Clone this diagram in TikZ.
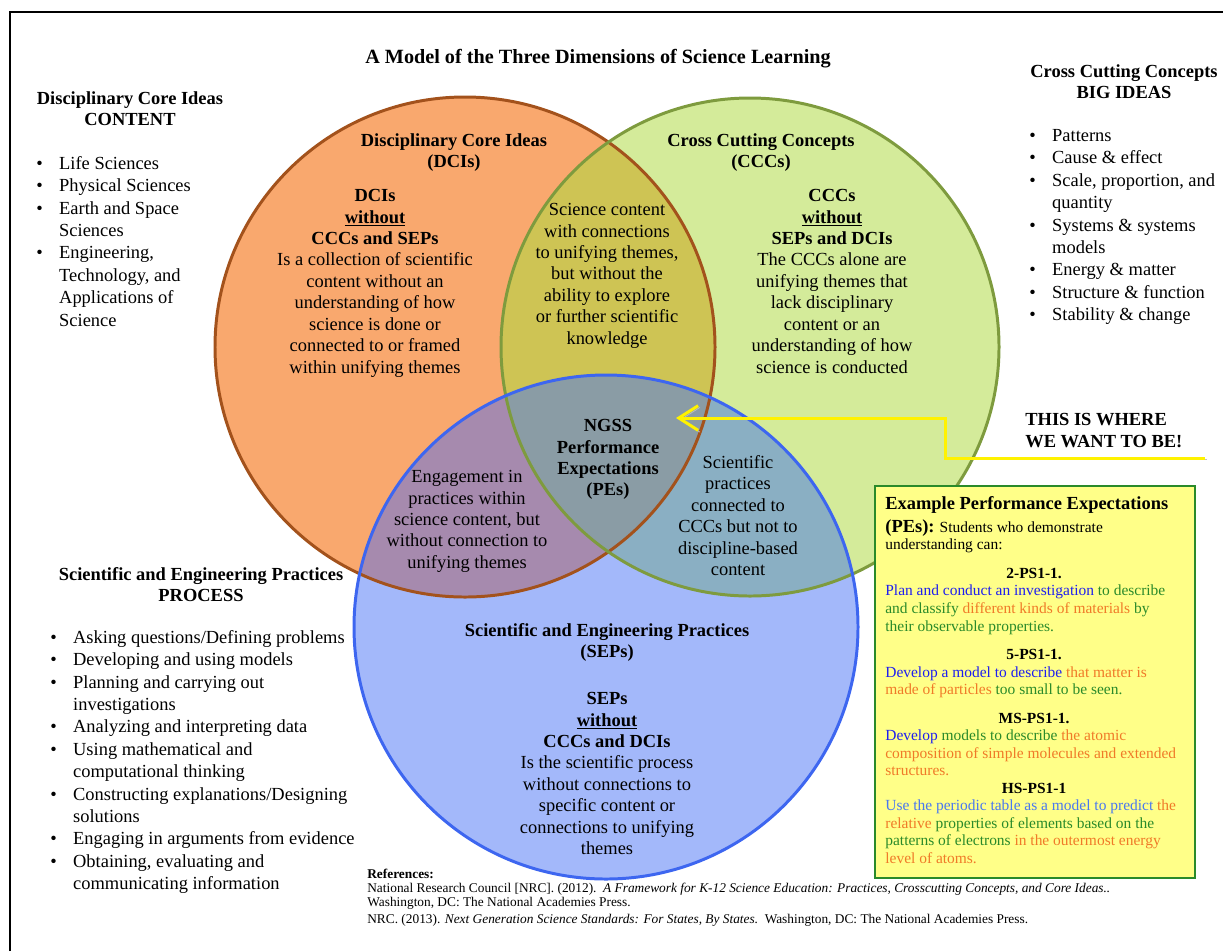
\documentclass[tikz,border=0pt]{standalone}
\usepackage{fontspec}
\setmainfont{Liberation Serif}
\usetikzlibrary{arrows.meta}

\definecolor{dcifill}{HTML}{F9A86E}
\definecolor{dciline}{HTML}{A3521C}
\definecolor{cccfill}{HTML}{D4EB9A}
\definecolor{cccline}{HTML}{7E9B3E}
\definecolor{sepfill}{HTML}{A3B8FA}
\definecolor{sepline}{HTML}{3D66F0}
\definecolor{dcicccfill}{HTML}{CEC454}
\definecolor{dcisepfill}{HTML}{A68AAE}
\definecolor{cccsepfill}{HTML}{8AAFC3}
\definecolor{allfill}{HTML}{8A9CA5}
\definecolor{boxfill}{HTML}{FFFF88}
\definecolor{boxline}{HTML}{2A8A2A}
\definecolor{pblue}{HTML}{1E1EF0}
\definecolor{pgreen}{HTML}{2A8A2A}
\definecolor{porange}{HTML}{F07A28}
\definecolor{plblue}{HTML}{4A78F0}

\newcommand{\bul}{\makebox[13pt][l]{\textbullet}}
\newcommand{\ind}{\hspace*{13pt}}

\begin{document}
\begin{tikzpicture}[x=0.02cm,y=-0.02cm,
  every node/.style={inner sep=0pt},
  plain/.style={font=\fontsize{10.5}{12.2}\selectfont,align=center,anchor=north},
  heads/.style={font=\fontsize{10.5}{12.2}\selectfont\bfseries,align=center,anchor=north},
  bullets/.style={font=\fontsize{10.5}{12.75}\selectfont,align=left,anchor=north west},
  venn/.style={line width=1.7pt},
  want/.style={draw=yellow,line width=1.7pt,-{Straight Barb[length=11pt,width=14pt]},
               preaction={draw=black!25,transform canvas={xshift=1pt,yshift=-1pt}}}]

  \useasboundingbox (0,0) rectangle (1223,951);
  \draw[line width=1.7pt] (10,951) -- (10,12) -- (1223,12);

  % the three circles
  \coordinate (DCI) at (465,347);
  \coordinate (CCC) at (750,347);
  \coordinate (SEP) at (606,627);

  \fill[dcifill] (DCI) circle (250);
  \fill[cccfill] (CCC) circle (249);
  \fill[sepfill] (SEP) circle (252);
  \begin{scope}
    \clip (DCI) circle (250);
    \fill[dcicccfill] (CCC) circle (249);
    \fill[dcisepfill] (SEP) circle (252);
  \end{scope}
  \begin{scope}
    \clip (CCC) circle (249);
    \fill[cccsepfill] (SEP) circle (252);
  \end{scope}
  \begin{scope}
    \clip (DCI) circle (250);
    \clip (CCC) circle (249);
    \fill[allfill] (SEP) circle (252);
  \end{scope}
  \draw[venn,dciline] (DCI) circle (250);
  \draw[venn,cccline] (CCC) circle (249);
  \draw[venn,sepline] (SEP) circle (252);

  \node[heads,font=\fontsize{11.5}{13}\selectfont\bfseries] (Title) at (598,49) {A Model of the Three Dimensions of Science Learning};

  % side lists
  \node[heads]   (DCIhead) at (130,91)  {Disciplinary Core Ideas\\CONTENT};
  \node[bullets] (DCIlist) at (36,156)  {\bul Life Sciences\\ \bul Physical Sciences\\ \bul Earth and Space\\ \ind Sciences\\
                                         \bul Engineering,\\ \ind Technology, and\\ \ind Applications of\\ \ind Science};
  \node[heads]   (CCChead) at (1124,64) {Cross Cutting Concepts\\BIG IDEAS};
  \node[bullets] (CCClist) at (1029,129) {\bul Patterns\\ \bul Cause \& effect\\ \bul Scale, proportion, and\\ \ind quantity\\
                                         \bul Systems \& systems\\ \ind models\\ \bul Energy \& matter\\ \bul Structure \& function\\
                                         \bul Stability \& change};
  \node[heads]   (SEPhead) at (201,567) {Scientific and Engineering Practices\\PROCESS};
  \node[bullets] (SEPlist) at (50,630)  {\bul Asking questions/Defining problems\\ \bul Developing and using models\\
                                         \bul Planning and carrying out\\ \ind investigations\\ \bul Analyzing and interpreting data\\
                                         \bul Using mathematical and\\ \ind computational thinking\\
                                         \bul Constructing explanations/Designing\\ \ind solutions\\
                                         \bul Engaging in arguments from evidence\\ \bul Obtaining, evaluating and\\
                                         \ind communicating information};

  % circle texts
  \node[heads] (DCItitle) at (454,133) {Disciplinary Core Ideas\\(DCIs)};
  \node[plain] (DCIonly)  at (375,189) {\textbf{DCIs}\\\textbf{\underline{without}}\\\textbf{CCCs and SEPs}\\Is a collection of scientific\\
                                        content without an\\understanding of how\\science is done or\\connected to or framed\\within unifying themes};
  \node[heads] (CCCtitle) at (761,133) {Cross Cutting Concepts\\(CCCs)};
  \node[plain] (CCConly)  at (832,189) {\textbf{CCCs}\\\textbf{\underline{without}}\\\textbf{SEPs and DCIs}\\The CCCs alone are\\
                                        unifying themes that\\lack disciplinary\\content or an\\understanding of how\\science is conducted};
  \node[plain] (DCICCC)   at (607,203) {Science content\\with connections\\to unifying themes,\\but without the\\ability to explore\\
                                        or further scientific\\knowledge};
  \node[heads] (PEs)      at (608,419) {NGSS\\Performance\\Expectations\\(PEs)};
  \node[plain] (DCISEP)   at (467,470) {Engagement in\\practices within\\science content, but\\without connection to\\unifying themes};
  \node[plain] (CCCSEP)   at (738,455) {Scientific\\practices\\connected to\\CCCs but not to\\discipline-based\\content};
  \node[heads] (SEPtitle) at (607,623) {Scientific and Engineering Practices\\(SEPs)};
  \node[plain] (SEPonly)  at (607,692) {\textbf{SEPs}\\\textbf{\underline{without}}\\\textbf{CCCs and DCIs}\\Is the scientific process\\
                                        without connections to\\specific content or\\connections to unifying\\themes};

  % where we want to be
  \node[heads,align=left,anchor=north west] (Want) at (1025,413) {THIS IS WHERE\\WE WANT TO BE!};
  \coordinate (Wantstart) at (1205,458);
  \coordinate (Wantbend)  at (945,418);
  \coordinate (Wanttip)   at (676,418);
  \draw[want] (Wantstart) -| (Wantbend) -- (Wanttip);

  % example box
  \draw[fill=boxfill,draw=boxline,line width=1.2pt] (875,486) rectangle (1195,878);
  \node[anchor=north west,align=left,font=\fontsize{8.8}{10}\selectfont] (PEbox) at (885,496) {%
    {\fontsize{10.5}{12}\selectfont\bfseries Example Performance Expectations}\\[3pt]
    {\fontsize{10.5}{12}\selectfont\bfseries (PEs):} Students who demonstrate\\
    understanding can:\\[6.3pt]
    \makebox[5.95cm]{\bfseries 2-PS1-1.}\\
    \textcolor{pblue}{Plan and conduct an investigation} \textcolor{pgreen}{to describe}\\
    \textcolor{pgreen}{and classify} \textcolor{porange}{different kinds of materials} \textcolor{pgreen}{by}\\
    \textcolor{pgreen}{their observable properties.}\\[6.3pt]
    \makebox[5.95cm]{\bfseries 5-PS1-1.}\\
    \textcolor{pblue}{Develop a model to describe} \textcolor{porange}{that matter is}\\
    \textcolor{porange}{made of particles} \textcolor{pgreen}{too small to be seen.}\\[6pt]
    \makebox[5.95cm]{\bfseries MS-PS1-1.}\\
    \textcolor{pblue}{Develop} \textcolor{pgreen}{models to describe} \textcolor{porange}{the atomic}\\
    \textcolor{porange}{composition of simple molecules and extended}\\
    \textcolor{porange}{structures.}\\
    \makebox[5.95cm]{\bfseries HS-PS1-1}\\
    \textcolor{plblue}{Use the periodic table as a model to predict} \textcolor{porange}{the}\\
    \textcolor{porange}{relative} \textcolor{pgreen}{properties of elements based on the}\\
    \textcolor{pgreen}{patterns of electrons} \textcolor{porange}{in the outermost energy}\\
    \textcolor{porange}{level of atoms.}};

  % references
  \node[anchor=north west,align=left,font=\fontsize{7.6}{8}\selectfont] (Refs) at (367,869) {%
    \textbf{References:}\\
    National Research Council [NRC]. (2012).\ \ \textit{A Framework for K-12 Science Education: Practices, Crosscutting Concepts, and Core Ideas..}\\
    Washington, DC: The National Academies Press.\\[1.5pt]
    NRC. (2013). \textit{Next Generation Science Standards: For States, By States.}\ \ Washington, DC: The National Academies Press.};
\end{tikzpicture}
\end{document}
